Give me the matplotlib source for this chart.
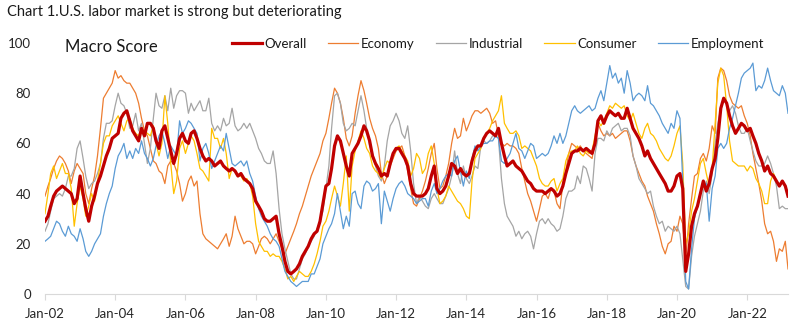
import numpy as np
import pandas as pd
import matplotlib
matplotlib.use("Agg")
import matplotlib.pyplot as plt
import matplotlib.dates as mdates

plt.rcParams['font.family'] = ['Lato', 'DejaVu Sans']

# monthly macro scores, Jan 2002 .. Mar 2023
dates = pd.date_range("2002-01-01", periods=255, freq="MS")

overall = [
    29, 31, 35, 39, 41, 42, 43, 42, 41, 40, 36, 38,
    47, 40, 34, 29, 35, 39, 44, 47, 51, 55, 58, 62,
    63, 64, 70, 72, 73, 69, 65, 63, 61, 66, 63, 68,
    68, 66, 61, 58, 65, 67, 62, 57, 52, 56, 62, 64,
    61, 60, 64, 65, 62, 58, 55, 53, 54, 53, 51, 52,
    53, 51, 50, 49, 50, 49, 47, 48, 46, 45, 44, 42,
    37, 35, 33, 30, 29, 29, 30, 31, 24, 19, 13, 9,
    8, 9, 10, 12, 15, 17, 19, 22, 24, 25, 29, 36,
    43, 44, 50, 59, 63, 61, 56, 51, 47, 56, 58, 60,
    63, 67, 65, 61, 55, 52, 50, 47, 48, 47, 52, 56,
    58, 58, 56, 54, 51, 44, 40, 39, 39, 39, 40, 42,
    47, 51, 42, 40, 41, 43, 47, 52, 51, 48, 50, 48,
    47, 48, 53, 57, 59, 59, 62, 64, 65, 64, 63, 66,
    60, 55, 51, 52, 53, 51, 50, 49, 47, 45, 44, 42,
    41, 41, 41, 40, 41, 42, 41, 39, 40, 43, 48, 52,
    56, 57, 57, 58, 57, 58, 57, 56, 60, 69, 71, 68,
    71, 73, 72, 71, 72, 70, 70, 74, 70, 66, 64, 62,
    59, 55, 57, 54, 52, 50, 48, 46, 44, 41, 41, 43,
    47, 48, 42, 9, 16, 27, 32, 35, 40, 45, 41, 44,
    50, 54, 62, 74, 78, 76, 71, 67, 64, 66, 68, 67,
    65, 66, 63, 60, 56, 53, 49, 51, 48, 47, 45, 43,
    45, 43, 39,
]

economy = [
    39, 43, 46, 50, 53, 55, 54, 52, 49, 44, 49, 52,
    50, 48, 40, 36, 42, 47, 55, 66, 78, 80, 82, 84,
    89, 86, 87, 85, 84, 84, 82, 80, 76, 70, 65, 63,
    58, 53, 52, 49, 48, 44, 51, 53, 52, 49, 44, 37,
    40, 45, 47, 43, 45, 32, 24, 22, 21, 20, 19, 18,
    20, 22, 24, 19, 23, 31, 26, 23, 20, 21, 21, 20,
    16, 19, 22, 23, 22, 20, 22, 24, 21, 18, 16, 19,
    22, 25, 28, 32, 35, 39, 43, 47, 50, 53, 56, 61,
    64, 70, 76, 82, 80, 76, 70, 62, 59, 63, 72, 79,
    85, 81, 76, 70, 66, 63, 58, 48, 44, 47, 51, 54,
    57, 58, 59, 55, 49, 42, 36, 35, 38, 41, 45, 50,
    56, 60, 50, 42, 43, 47, 52, 60, 66, 62, 63, 70,
    65, 68, 71, 73, 73, 72, 73, 74, 72, 68, 69, 63,
    60, 59, 60, 59, 59, 58, 56, 50, 45, 40, 37, 33,
    29, 34, 39, 40, 38, 42, 41, 36, 34, 44, 49, 56,
    60, 59, 58, 59, 57, 56, 55, 54, 61, 68, 65, 63,
    64, 63, 64, 62, 63, 64, 65, 65, 61, 55, 51, 48,
    45, 43, 39, 36, 33, 28, 24, 19, 16, 20, 21, 27,
    25, 31, 28, 14, 28, 38, 47, 48, 54, 56, 53, 58,
    67, 64, 86, 90, 89, 85, 79, 76, 75, 74, 75, 71,
    68, 63, 56, 50, 44, 37, 28, 24, 25, 21, 13, 18,
    17, 21, 10,
]

industrial = [
    25, 28, 33, 38, 39, 40, 39, 42, 47, 47, 50, 58,
    61, 54, 47, 42, 44, 45, 48, 52, 62, 68, 68, 69,
    75, 80, 76, 75, 72, 66, 67, 72, 65, 68, 60, 52,
    58, 70, 80, 75, 74, 79, 73, 82, 74, 79, 81, 81,
    80, 72, 76, 73, 75, 77, 73, 73, 78, 68, 65, 67,
    65, 70, 67, 68, 74, 67, 65, 66, 68, 66, 68, 65,
    62, 58, 56, 53, 52, 52, 57, 48, 34, 24, 18, 13,
    8, 6, 6, 10, 14, 16, 19, 21, 23, 26, 29, 33,
    42, 51, 66, 79, 80, 76, 68, 65, 66, 68, 67, 73,
    79, 73, 66, 59, 56, 51, 47, 45, 51, 61, 67, 69,
    72, 69, 64, 62, 67, 57, 44, 36, 39, 37, 35, 34,
    38, 40, 38, 36, 36, 39, 42, 47, 57, 48, 44, 51,
    46, 44, 47, 51, 50, 59, 61, 60, 61, 63, 63, 62,
    46, 36, 31, 29, 27, 23, 25, 22, 24, 25, 23, 18,
    24, 29, 30, 28, 30, 28, 27, 25, 26, 31, 38, 41,
    41, 42, 47, 44, 51, 50, 46, 41, 56, 62, 62, 61,
    65, 63, 66, 67, 68, 65, 66, 66, 63, 55, 51, 46,
    44, 42, 40, 41, 35, 31, 28, 29, 25, 27, 26, 25,
    27, 24, 14, 3, 2, 15, 23, 28, 33, 41, 45, 40,
    48, 60, 68, 74, 77, 76, 73, 75, 72, 67, 64, 64,
    66, 61, 57, 53, 51, 51, 52, 55, 52, 48, 43, 34,
    35, 34, 34,
]

consumer = [
    32, 40, 48, 51, 46, 49, 52, 48, 48, 42, 27, 36,
    43, 38, 31, 35, 40, 37, 45, 52, 60, 63, 63, 67,
    69, 71, 68, 65, 69, 70, 66, 64, 63, 66, 65, 64,
    63, 67, 60, 55, 60, 79, 68, 52, 40, 45, 58, 61,
    56, 60, 63, 61, 56, 50, 49, 47, 45, 66, 62, 62,
    58, 62, 56, 46, 50, 49, 47, 47, 45, 46, 44, 39,
    28, 21, 19, 17, 17, 15, 16, 15, 15, 13, 10, 6,
    7, 5, 7, 9, 8, 7, 7, 9, 12, 16, 21, 27,
    29, 33, 38, 43, 39, 35, 44, 55, 33, 51, 57, 61,
    65, 62, 58, 56, 51, 49, 48, 46, 50, 53, 52, 55,
    58, 59, 57, 55, 53, 47, 50, 56, 54, 48, 50, 56,
    59, 52, 42, 36, 37, 39, 43, 41, 39, 37, 36, 34,
    31, 30, 45, 54, 56, 58, 62, 64, 66, 69, 71, 73,
    79, 68, 66, 64, 64, 65, 63, 58, 59, 58, 57, 54,
    51, 46, 44, 43, 43, 45, 46, 41, 44, 46, 53, 56,
    57, 57, 59, 56, 55, 57, 56, 57, 63, 69, 67, 69,
    72, 75, 74, 76, 75, 74, 75, 71, 69, 72, 68, 64,
    62, 66, 68, 64, 63, 61, 58, 56, 54, 53, 55, 59,
    64, 67, 52, 20, 24, 33, 38, 45, 52, 54, 48, 43,
    50, 68, 84, 90, 87, 75, 61, 53, 52, 51, 51, 51,
    49, 51, 50, 46, 44, 41, 36, 36, 45, 48, 45, 43,
    45, 43, 40,
]

employment = [
    21, 22, 23, 26, 29, 28, 25, 23, 27, 24, 23, 21,
    26, 22, 17, 15, 17, 20, 22, 24, 31, 36, 40, 43,
    50, 55, 57, 60, 54, 57, 54, 58, 56, 61, 56, 54,
    51, 54, 59, 63, 65, 60, 54, 59, 57, 55, 69, 64,
    66, 69, 68, 66, 64, 53, 58, 60, 56, 50, 53, 56,
    59, 57, 64, 58, 52, 51, 52, 53, 51, 53, 48, 45,
    39, 34, 31, 29, 27, 24, 22, 21, 19, 14, 9, 7,
    5, 4, 3, 4, 5, 5, 5, 8, 8, 11, 14, 20,
    23, 26, 28, 32, 40, 33, 26, 31, 27, 40, 41, 36,
    34, 43, 45, 44, 41, 42, 44, 28, 41, 37, 33, 38,
    42, 44, 45, 43, 40, 39, 38, 36, 37, 38, 38, 35,
    41, 44, 40, 42, 45, 47, 48, 47, 53, 55, 49, 43,
    49, 46, 54, 59, 57, 59, 60, 60, 61, 61, 63, 62,
    53, 52, 54, 56, 60, 64, 58, 57, 54, 57, 60, 59,
    54, 55, 56, 55, 56, 59, 63, 60, 64, 60, 63, 68,
    73, 75, 73, 72, 73, 74, 75, 73, 74, 78, 81, 77,
    84, 91, 86, 88, 84, 86, 80, 89, 84, 77, 79, 80,
    79, 77, 83, 76, 75, 73, 71, 68, 66, 64, 68, 66,
    73, 70, 45, 5, 2, 18, 30, 35, 40, 44, 44, 29,
    42, 47, 58, 60, 58, 60, 66, 70, 75, 80, 86, 88,
    89, 90, 92, 81, 83, 82, 85, 90, 85, 81, 80, 79,
    83, 80, 72,
]

series = [
    ("Economy", economy, "#ED7D31"),
    ("Industrial", industrial, "#A5A5A5"),
    ("Consumer", consumer, "#FFC000"),
    ("Employment", employment, "#5B9BD5"),
]

fig = plt.figure(figsize=(8.07, 3.30), dpi=100)
ax = fig.add_axes([45 / 807, 1 - 294 / 330, 743 / 807, 251 / 330])

line_overall, = ax.plot(dates, overall, color="#C00000", lw=2.3, zorder=5, label="Overall")
handles = [line_overall]
for name, vals, col in series:
    h, = ax.plot(dates, vals, color=col, lw=0.9, label=name)
    handles.append(h)

ax.set_ylim(0, 100)
ax.set_yticks(range(0, 101, 20))
ax.set_xlim(dates[0], dates[-1])
ax.xaxis.set_major_locator(mdates.YearLocator(2))
ax.xaxis.set_major_formatter(mdates.DateFormatter("%b-%y"))

for side in ("top", "right", "left"):
    ax.spines[side].set_visible(False)
ax.spines["bottom"].set_color("#D9D9D9")
ax.spines["bottom"].set_linewidth(0.8)
ax.tick_params(axis="x", direction="out", length=4, color="#D9D9D9",
               labelsize=9.5, pad=6, labelcolor="#262626")
ax.tick_params(axis="y", length=0, labelsize=9.5, pad=10, labelcolor="#262626")

fig.text(7 / 807, 1 - 12 / 330, "Chart 1.U.S. labor market is strong but deteriorating",
         fontsize=10.5, va="center", ha="left", color="#1a1a1a")
fig.text(65 / 807, 1 - 47 / 330, "Macro Score", fontsize=12, va="center", ha="left",
         color="#1a1a1a")

fig.legend(handles=handles, loc="center", bbox_to_anchor=(498 / 807, 1 - 44 / 330),
           ncol=5, frameon=False, fontsize=9.5, handlelength=2.3, handletextpad=0.2,
           columnspacing=1.6, borderpad=0, labelcolor="#1a1a1a")

fig.savefig("out.png", dpi=100)
